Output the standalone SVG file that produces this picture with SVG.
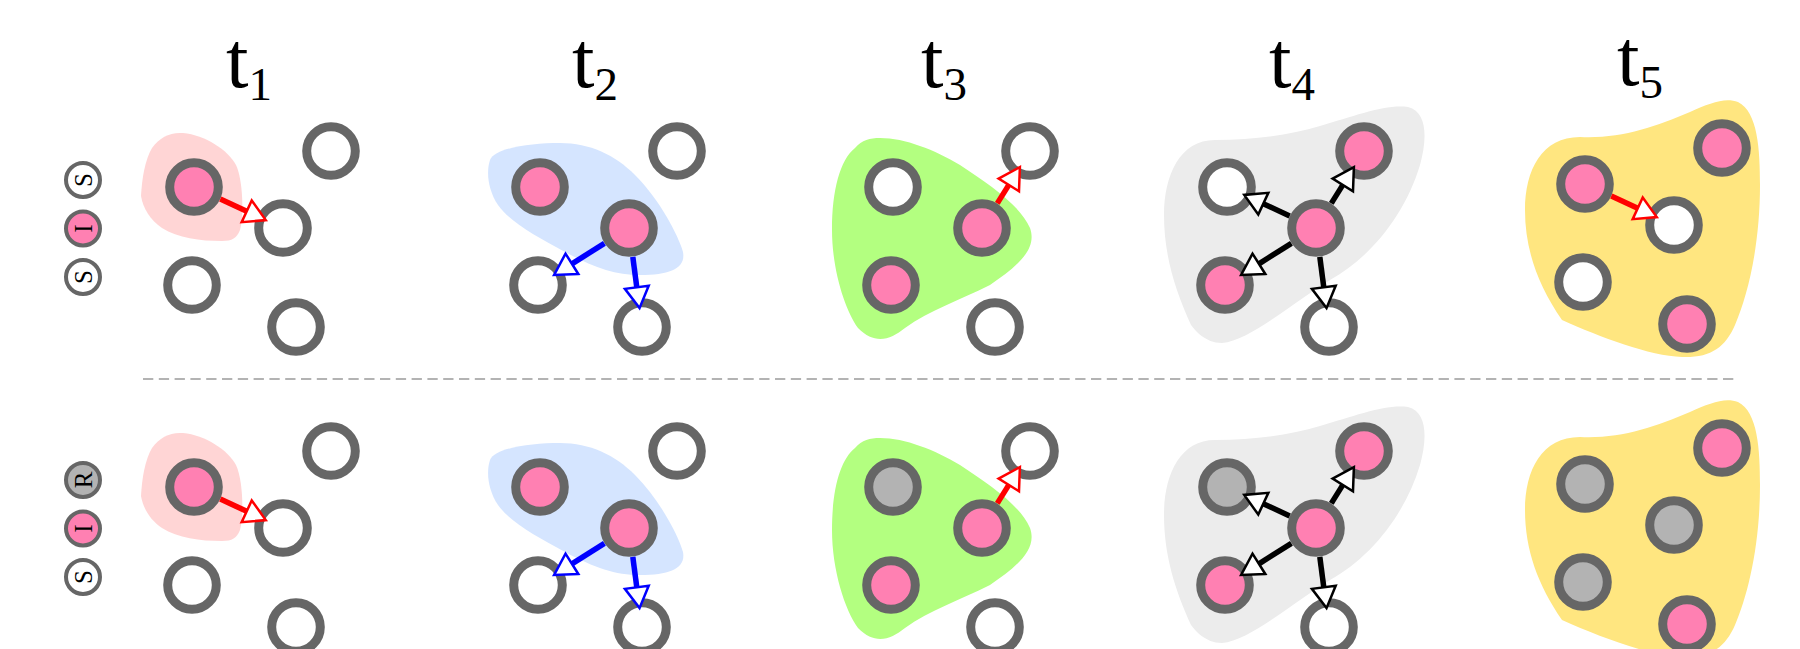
<svg xmlns="http://www.w3.org/2000/svg" width="1800" height="649" viewBox="0 0 1800 649">
<style>
.nd{stroke:#666;stroke-width:9}
.s{fill:#fff}.i{fill:#ff80b2}.r{fill:#b3b3b3}
.leg{stroke:#666;stroke-width:4}
.lt{font-family:"Liberation Serif","DejaVu Serif",serif;font-size:25px;text-anchor:middle;fill:#000}
.tt{font-family:"Liberation Serif","DejaVu Serif",serif;font-size:81px;fill:#000}
.sub{font-size:47px}
.ar{stroke-width:5.5;fill:none}
.red{stroke:#f00;marker-end:url(#mr)}
.blue{stroke:#00f;marker-end:url(#mb)}
.blk{stroke:#000;marker-end:url(#mk)}
</style>
<defs>
<marker id="mr" markerUnits="userSpaceOnUse" viewBox="-4 -15 30 30" markerWidth="30" markerHeight="30" refX="0" refY="0" orient="auto" overflow="visible"><path d="M0,-12 L21,0 L0,12 Z" fill="#fff" stroke="#f00" stroke-width="2.5"/></marker>
<marker id="mb" markerUnits="userSpaceOnUse" viewBox="-4 -15 30 30" markerWidth="30" markerHeight="30" refX="0" refY="0" orient="auto" overflow="visible"><path d="M0,-12 L21,0 L0,12 Z" fill="#fff" stroke="#00f" stroke-width="2.5"/></marker>
<marker id="mk" markerUnits="userSpaceOnUse" viewBox="-4 -15 30 30" markerWidth="30" markerHeight="30" refX="0" refY="0" orient="auto" overflow="visible"><path d="M0,-12 L21,0 L0,12 Z" fill="#fff" stroke="#000" stroke-width="2.5"/></marker>
<g id="blobs">
<path fill="#ffd5d5" d="M183,133 C205,135 228,150 236,165 C243,180 244,215 240,230 C237,238 232,241 222,241 C200,241 178,238 162,228 C150,220 143,208 141,196 C142,178 145,160 152,148 C160,137 170,132 183,133 Z"/>
<path fill="#d5e5ff" d="M490,160 C495,148 530,143 560,143 C590,143 615,155 635,175 C660,200 678,235 683,252 C686,268 670,275 640,275 C615,275 595,268 565,252 C535,236 510,222 498,205 C488,190 486,172 490,160 Z"/>
<path fill="#b3ff80" d="M880,138 C905,138 935,150 960,165 C990,185 1020,205 1030,228 C1038,250 1015,268 990,285 C960,300 930,310 905,328 C890,340 875,345 858,328 C845,310 832,270 832,230 C832,190 840,160 855,148 C862,140 870,138 880,138 Z"/>
<path fill="#ececec" d="M1215,140 C1255,140 1290,135 1320,126 C1355,116 1385,104 1408,107 C1428,112 1427,140 1420,165 C1405,215 1370,258 1330,280 C1290,305 1250,340 1222,343 C1205,343 1195,330 1191,325 C1175,290 1164,255 1164,215 C1164,175 1180,140 1215,140 Z"/>
<path fill="#ffe680" d="M1580,137 C1620,139 1655,127 1690,112 C1710,103 1725,97 1738,102 C1758,112 1760,150 1760,185 C1760,245 1748,295 1735,325 C1725,348 1710,358 1682,357 C1650,356 1600,337 1562,320 C1538,285 1525,250 1525,210 C1525,170 1542,137 1580,137 Z"/>
</g>
</defs>

<g id="titles">
<text class="tt" x="226" y="87">t<tspan class="sub" dy="13">1</tspan></text>
<text class="tt" x="572" y="87">t<tspan class="sub" dy="13">2</tspan></text>
<text class="tt" x="921" y="87">t<tspan class="sub" dy="13">3</tspan></text>
<text class="tt" x="1269" y="87">t<tspan class="sub" dy="13">4</tspan></text>
<text class="tt" x="1617" y="85">t<tspan class="sub" dy="13">5</tspan></text>
</g>

<use href="#blobs"/>
<use href="#blobs" transform="translate(0,300)"/>

<line id="divider" x1="143" y1="379" x2="1735" y2="379" stroke="#b3b3b3" stroke-width="2" stroke-dasharray="10.3 5.5"/>

<g id="legend">
<g id="leg1-s1"><circle class="leg s" cx="83" cy="180" r="17"/><text class="lt" transform="translate(83,180) rotate(-90)" dy="0.34em">S</text></g>
<g id="leg1-i"><circle class="leg i" cx="83" cy="228.5" r="17"/><text class="lt" transform="translate(83,228.5) rotate(-90)" dy="0.34em">I</text></g>
<g id="leg1-s2"><circle class="leg s" cx="83" cy="277" r="17"/><text class="lt" transform="translate(83,277) rotate(-90)" dy="0.34em">S</text></g>
<g id="leg2-r"><circle class="leg r" cx="83" cy="480" r="17"/><text class="lt" transform="translate(83,480) rotate(-90)" dy="0.34em">R</text></g>
<g id="leg2-i"><circle class="leg i" cx="83" cy="528.5" r="17"/><text class="lt" transform="translate(83,528.5) rotate(-90)" dy="0.34em">I</text></g>
<g id="leg2-s"><circle class="leg s" cx="83" cy="577" r="17"/><text class="lt" transform="translate(83,577) rotate(-90)" dy="0.34em">S</text></g>
</g>

<g id="nodes">
<!-- row 1 -->
<g id="r1t1a"><circle class="nd i" cx="194" cy="187" r="24.3"/></g>
<g id="r1t1b"><circle class="nd s" cx="331" cy="151" r="24.3"/></g>
<g id="r1t1c"><circle class="nd s" cx="283" cy="228" r="24.3"/></g>
<g id="r1t1d"><circle class="nd s" cx="192" cy="285" r="24.3"/></g>
<g id="r1t1e"><circle class="nd s" cx="296" cy="327" r="24.3"/></g>

<g id="r1t2a"><circle class="nd i" cx="540" cy="187" r="24.3"/></g>
<g id="r1t2b"><circle class="nd s" cx="677" cy="151" r="24.3"/></g>
<g id="r1t2c"><circle class="nd i" cx="629" cy="228" r="24.3"/></g>
<g id="r1t2d"><circle class="nd s" cx="538" cy="285" r="24.3"/></g>
<g id="r1t2e"><circle class="nd s" cx="642" cy="327" r="24.3"/></g>

<g id="r1t3a"><circle class="nd s" cx="893" cy="187" r="24.3"/></g>
<g id="r1t3b"><circle class="nd s" cx="1030" cy="151" r="24.3"/></g>
<g id="r1t3c"><circle class="nd i" cx="982" cy="228" r="24.3"/></g>
<g id="r1t3d"><circle class="nd i" cx="891" cy="285" r="24.3"/></g>
<g id="r1t3e"><circle class="nd s" cx="995" cy="327" r="24.3"/></g>

<g id="r1t4a"><circle class="nd s" cx="1227" cy="187" r="24.3"/></g>
<g id="r1t4b"><circle class="nd i" cx="1364" cy="151" r="24.3"/></g>
<g id="r1t4c"><circle class="nd i" cx="1316" cy="228" r="24.3"/></g>
<g id="r1t4d"><circle class="nd i" cx="1225" cy="285" r="24.3"/></g>
<g id="r1t4e"><circle class="nd s" cx="1329" cy="327" r="24.3"/></g>

<g id="r1t5a"><circle class="nd i" cx="1585" cy="184" r="24.3"/></g>
<g id="r1t5b"><circle class="nd i" cx="1722" cy="148" r="24.3"/></g>
<g id="r1t5c"><circle class="nd s" cx="1674" cy="225" r="24.3"/></g>
<g id="r1t5d"><circle class="nd s" cx="1583" cy="282" r="24.3"/></g>
<g id="r1t5e"><circle class="nd i" cx="1687" cy="324" r="24.3"/></g>
<!-- row 2 -->
<g id="r2t1a"><circle class="nd i" cx="194" cy="487" r="24.3"/></g>
<g id="r2t1b"><circle class="nd s" cx="331" cy="451" r="24.3"/></g>
<g id="r2t1c"><circle class="nd s" cx="283" cy="528" r="24.3"/></g>
<g id="r2t1d"><circle class="nd s" cx="192" cy="585" r="24.3"/></g>
<g id="r2t1e"><circle class="nd s" cx="296" cy="627" r="24.3"/></g>

<g id="r2t2a"><circle class="nd i" cx="540" cy="487" r="24.3"/></g>
<g id="r2t2b"><circle class="nd s" cx="677" cy="451" r="24.3"/></g>
<g id="r2t2c"><circle class="nd i" cx="629" cy="528" r="24.3"/></g>
<g id="r2t2d"><circle class="nd s" cx="538" cy="585" r="24.3"/></g>
<g id="r2t2e"><circle class="nd s" cx="642" cy="627" r="24.3"/></g>

<g id="r2t3a"><circle class="nd r" cx="893" cy="487" r="24.3"/></g>
<g id="r2t3b"><circle class="nd s" cx="1030" cy="451" r="24.3"/></g>
<g id="r2t3c"><circle class="nd i" cx="982" cy="528" r="24.3"/></g>
<g id="r2t3d"><circle class="nd i" cx="891" cy="585" r="24.3"/></g>
<g id="r2t3e"><circle class="nd s" cx="995" cy="627" r="24.3"/></g>

<g id="r2t4a"><circle class="nd r" cx="1227" cy="487" r="24.3"/></g>
<g id="r2t4b"><circle class="nd i" cx="1364" cy="451" r="24.3"/></g>
<g id="r2t4c"><circle class="nd i" cx="1316" cy="528" r="24.3"/></g>
<g id="r2t4d"><circle class="nd i" cx="1225" cy="585" r="24.3"/></g>
<g id="r2t4e"><circle class="nd s" cx="1329" cy="627" r="24.3"/></g>

<g id="r2t5a"><circle class="nd r" cx="1585" cy="484" r="24.3"/></g>
<g id="r2t5b"><circle class="nd i" cx="1722" cy="448" r="24.3"/></g>
<g id="r2t5c"><circle class="nd r" cx="1674" cy="525" r="24.3"/></g>
<g id="r2t5d"><circle class="nd r" cx="1583" cy="582" r="24.3"/></g>
<g id="r2t5e"><circle class="nd i" cx="1687" cy="624" r="24.3"/></g>
</g>

<g id="connectors">
<line class="ar red" x1="220.3" y1="199.1" x2="246.7" y2="211.3"/>
<line class="ar blue" x1="604.4" y1="243.4" x2="571.9" y2="263.8"/>
<line class="ar blue" x1="632.8" y1="256.8" x2="636.8" y2="287.3"/>
<line class="ar red" x1="997.3" y1="203.4" x2="1008.8" y2="184.9"/>
<line class="ar blk" x1="1289.7" y1="215.9" x2="1263.3" y2="203.7"/>
<line class="ar blk" x1="1331.3" y1="203.4" x2="1342.8" y2="184.9"/>
<line class="ar blk" x1="1291.4" y1="243.4" x2="1258.9" y2="263.8"/>
<line class="ar blk" x1="1319.8" y1="256.8" x2="1323.8" y2="287.3"/>
<line class="ar red" x1="1611.3" y1="196.1" x2="1637.7" y2="208.3"/>

<line class="ar red" x1="220.3" y1="499.1" x2="246.7" y2="511.3"/>
<line class="ar blue" x1="604.4" y1="543.4" x2="571.9" y2="563.8"/>
<line class="ar blue" x1="632.8" y1="556.8" x2="636.8" y2="587.3"/>
<line class="ar red" x1="997.3" y1="503.4" x2="1008.8" y2="484.9"/>
<line class="ar blk" x1="1289.7" y1="515.9" x2="1263.3" y2="503.7"/>
<line class="ar blk" x1="1331.3" y1="503.4" x2="1342.8" y2="484.9"/>
<line class="ar blk" x1="1291.4" y1="543.4" x2="1258.9" y2="563.8"/>
<line class="ar blk" x1="1319.8" y1="556.8" x2="1323.8" y2="587.3"/>
</g>
</svg>
